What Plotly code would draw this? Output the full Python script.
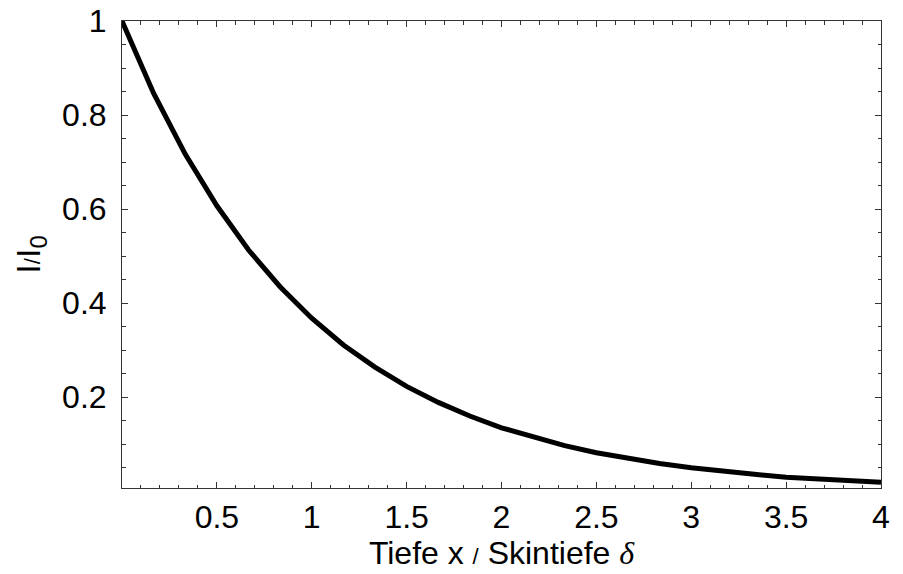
import plotly.graph_objects as go

# Data
depth = [0.0, 0.167, 0.333, 0.5, 0.667, 0.833, 1.0, 1.167, 1.333, 1.5, 1.667, 1.833,
         2.0, 2.167, 2.333, 2.5, 2.667, 2.833, 3.0, 3.167, 3.333, 3.5, 3.667, 3.833, 4.0]
intensity = [1.0, 0.846, 0.717, 0.607, 0.513, 0.435, 0.368, 0.311, 0.264, 0.223, 0.189, 0.160,
             0.135, 0.115, 0.097, 0.082, 0.070, 0.059, 0.050, 0.042, 0.036, 0.030, 0.026, 0.021, 0.019]

x_tickvals = [0.5, 1, 1.5, 2, 2.5, 3, 3.5, 4]
x_ticktext = ["0.5", "1", "1.5", "2", "2.5", "3", "3.5", "4"]
y_tickvals = [0.2, 0.4, 0.6, 0.8, 1.0]
y_ticktext = ["0.2", "0.4", "0.6", "0.8", "1"]

FONT = "Liberation Sans, Arial, Helvetica, sans-serif"

fig = go.Figure()
fig.add_trace(go.Scatter(x=depth, y=intensity, mode="lines",
                         line=dict(color="black", width=5), showlegend=False,
                         hoverinfo="skip"))

axis_common = dict(
    showline=True, linecolor="#333333", linewidth=1, mirror="allticks",
    ticks="inside", ticklen=6, tickwidth=1, tickcolor="#333333",
    showgrid=False, zeroline=False, automargin=False,
    tickfont=dict(family=FONT, size=32, color="black"),
)

fig.update_xaxes(
    range=[0, 4], tickvals=x_tickvals, ticktext=x_ticktext,
    minor=dict(dtick=0.1, ticks="inside", ticklen=3.5, tickcolor="#333333", showgrid=False),
    title=dict(text="Tiefe x <span style='font-size:22px'>/</span> Skintiefe "
                    "<span style='font-family:Liberation Serif, Times New Roman, serif'><i>δ</i></span>",
               font=dict(family=FONT, size=32, color="black"), standoff=2),
    ticklabelstandoff=1,
    **axis_common,
)
fig.update_yaxes(
    range=[0.007, 1.0], tickvals=y_tickvals, ticktext=y_ticktext,
    minor=dict(dtick=0.05, ticks="inside", ticklen=3.5, tickcolor="#333333", showgrid=False),
    title=dict(text="I<span style='font-size:22px'>/</span>I<sub>0</sub>",
               font=dict(family=FONT, size=34, color="black"), standoff=11),
    ticklabelstandoff=8,
    **axis_common,
)

fig.update_layout(
    width=903, height=574,
    margin=dict(l=122, r=22, t=21, b=86, autoexpand=False),
    plot_bgcolor="white", paper_bgcolor="white",
)

fig.write_html("out.html", config={"displayModeBar": False},
               post_script="document.body.style.margin='0';")
